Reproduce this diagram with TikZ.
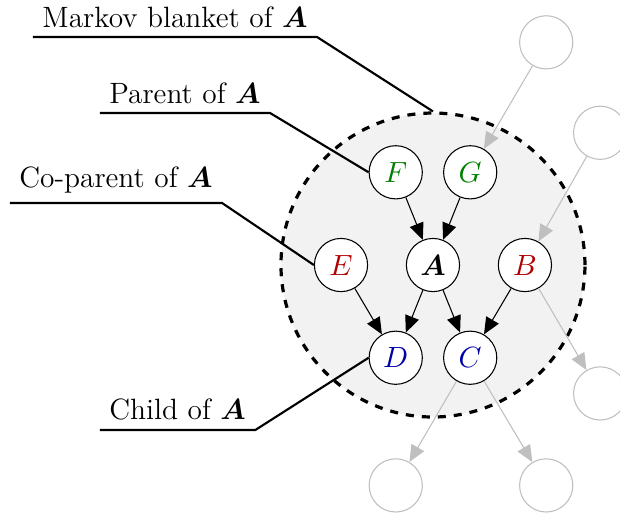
\documentclass[tikz,border=0pt]{standalone}
\usepackage{amsmath, amssymb}
\usepackage{xcolor}
\usepackage{tikz}
\usetikzlibrary{calc, arrows.meta}

\colorlet{parentcol}{green!50!black}
\colorlet{coparentcol}{red!70!black}
\colorlet{childcol}{blue!65!black}

\tikzset{
	var/.style = {circle, draw, fill = white, minimum size = 0.7cm, inner sep = 0pt},
	ghost/.style = {circle, draw = lightgray, minimum size = 0.7cm, inner sep = 0pt},
	edge/.style = {-{Triangle[length = 2.2mm, width = 1.9mm]}},
	ghostedge/.style = {edge, lightgray},
	tag/.style = {anchor = south west},
	tagline/.style = {thick}
}

\begin{document}
\begin{tikzpicture}[font = \fontsize{11pt}{13.5pt}\selectfont]
					\useasboundingbox (-5.697,-3.289) rectangle (2.461,3.487);
					\def\R{2};
					\def\dx{0.49};
					\def\dy{1.22};
					
					\node [circle, draw, very thick, dashed, fill = black!5, minimum size = {2*\R cm}] (MB) at (0,0) {};
					
					\begin{scope}
						\node [var] (A) at (0,0) {$\boldsymbol{A}$};
						\node [var] (F) at ({-\dx},\dy) {$\color{parentcol}F$};
						\node [var] (G) at (\dx,\dy) {$\color{parentcol}G$};
						\node [var] (E) at (-1.21,0) {$\color{coparentcol}E$};
						\node [var] (B) at (1.21,0) {$\color{coparentcol}B$};
						\node [var] (D) at ({-\dx},{-\dy}) {$\color{childcol}D$};
						\node [var] (C) at (\dx,{-\dy}) {$\color{childcol}C$};
						
						\draw [edge] (F) -- (A);
						\draw [edge] (G) -- (A);
						\draw [edge] (A) -- (D);
						\draw [edge] (A) -- (C);
						\draw [edge] (E) -- (D);
						\draw [edge] (B) -- (C);
					\end{scope}
					
					\begin{scope}
						\node [ghost] (g1) at (1.49,2.93) {};
						\node [ghost] (g2) at (2.2,1.74) {};
						\node [ghost] (g3) at (2.2,-1.69) {};
						\node [ghost] (g4) at ({-\dx},-2.9) {};
						\node [ghost] (g5) at (1.49,-2.9) {};
						
						\draw [ghostedge] (g1) -- (G);
						\draw [ghostedge] (g2) -- (B);
						\draw [ghostedge] (B) -- (g3);
						\draw [ghostedge] (C) -- (g4);
						\draw [ghostedge] (C) -- (g5);
					\end{scope}
					
					\begin{scope}
						\node [tag] (tMB) at (-5.263,3.0) {Markov blanket of $\boldsymbol{A}$};
						\node [tag] (tP) at (-4.382,2.0) {Parent of $\boldsymbol{A}$};
						\node [tag] (tCP) at (-5.566,0.816) {Co-parent of $\boldsymbol{A}$};
						\node [tag] (tC) at (-4.382,-2.171) {Child of $\boldsymbol{A}$};
						
						\draw [tagline] (tMB.south west) -- (tMB.south east) -- (MB.north);
						\draw [tagline] (tP.south west) -- (tP.south east) -- (F.west);
						\draw [tagline] (tCP.south west) -- (tCP.south east) -- (E.west);
						\draw [tagline] (tC.south west) -- (tC.south east) -- (D.west);
					\end{scope}
				\end{tikzpicture}
\end{document}
